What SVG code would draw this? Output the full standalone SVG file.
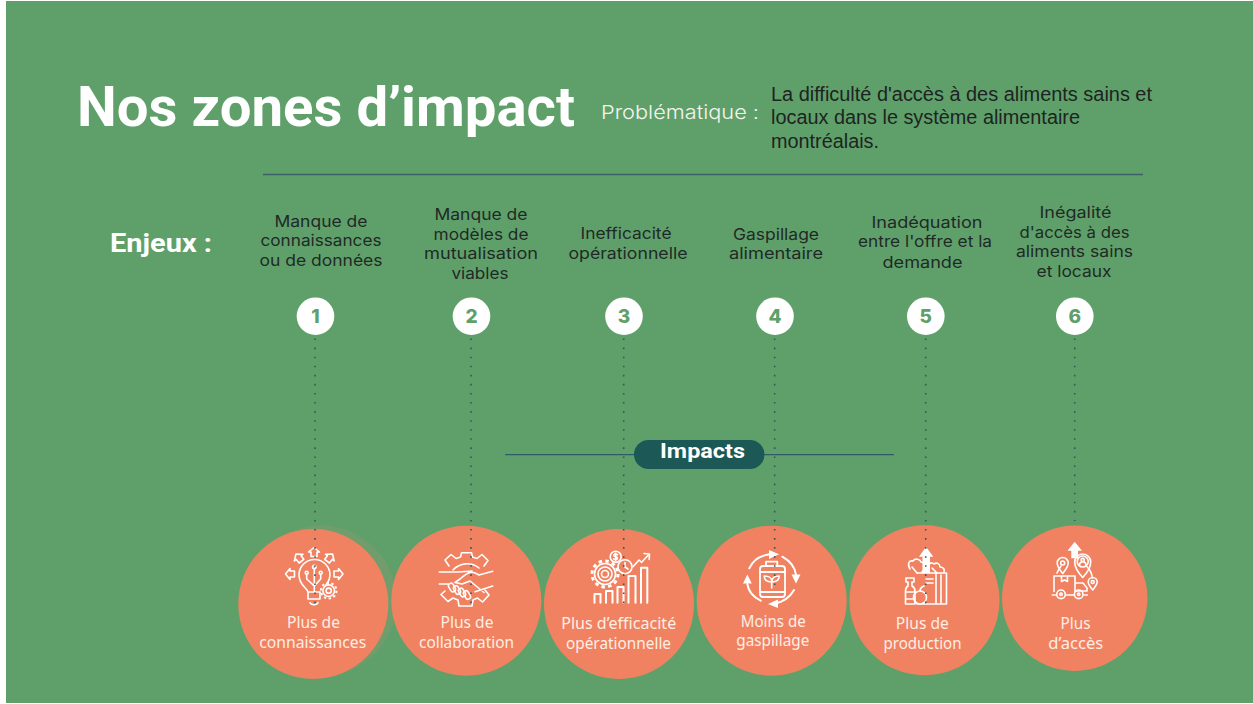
<svg xmlns="http://www.w3.org/2000/svg" xmlns:xlink="http://www.w3.org/1999/xlink" width="1253" height="704" viewBox="0 0 1253 704">
<style>
.s{font-family:"Inter","Noto Sans",sans-serif;font-size:16px;fill:#1f2a26;text-anchor:middle}
.c{font-family:"Noto Sans","Open Sans",sans-serif;font-size:16px;fill:#fdeee4;text-anchor:middle}
.n{font-family:"Inter","Noto Sans",sans-serif;font-size:19px;font-weight:800;fill:#5fa06a;text-anchor:middle}
.d{stroke:#2e5a5c;stroke-width:1.6;stroke-dasharray:1.6 7.47;fill:none}
.i{fill:none;stroke:#fff;stroke-width:1.6;stroke-linejoin:round;stroke-linecap:round}
.o{fill:#f18261}
.w{fill:#fff}
</style>
<defs>
<path id="a" d="M0-5l5.500 4.500h-2.500v4.500h-6v-4.500h-2.500z"/>
<g id="g"><circle r="5.800"/><circle r="2.600"/><circle r="7.800" stroke-width="2" stroke-dasharray="2.400 2.500" stroke-linecap="butt"/></g>
</defs>
<rect width="1253" height="704" fill="#fff"/>
<rect x="6" y="1" width="1247" height="702" fill="#5fa06a"/>
<text x="77" y="126" font-family="Roboto,sans-serif" font-weight="700" font-size="56" fill="#fff" textLength="498" lengthAdjust="spacingAndGlyphs">Nos zones d’impact</text>
<text x="601" y="119" font-family="Inter,sans-serif" font-weight="300" font-size="19" fill="#f4f4ee" textLength="158" lengthAdjust="spacingAndGlyphs">Problématique :</text>
<g font-family="Liberation Sans,sans-serif" font-size="20" fill="#1d2422">
<text x="771" y="101" textLength="381" lengthAdjust="spacingAndGlyphs">La difficulté d'accès à des aliments sains et</text>
<text x="771" y="124" textLength="309" lengthAdjust="spacingAndGlyphs">locaux dans le système alimentaire</text>
<text x="771" y="148" textLength="108" lengthAdjust="spacingAndGlyphs">montréalais.</text>
</g>
<line x1="263" y1="174.500" x2="1143" y2="174.500" stroke="#3c5f6a" stroke-width="1.300"/>
<text x="110" y="252" font-family="Roboto,sans-serif" font-weight="700" font-size="25" fill="#fff" textLength="102" lengthAdjust="spacingAndGlyphs">Enjeux :</text>
<g id="enjeu1"><text class="s" x="321" y="227" textLength="93" lengthAdjust="spacingAndGlyphs">Manque de</text><text class="s" x="321" y="246" textLength="121" lengthAdjust="spacingAndGlyphs">connaissances</text><text class="s" x="321" y="266" textLength="123" lengthAdjust="spacingAndGlyphs">ou de données</text><circle class="w" cx="315.500" cy="316.200" r="18.800"/><text class="n" x="315.500" y="323">1</text></g>
<g id="enjeu2"><text class="s" x="481" y="220" textLength="93" lengthAdjust="spacingAndGlyphs">Manque de</text><text class="s" x="481" y="240" textLength="95" lengthAdjust="spacingAndGlyphs">modèles de</text><text class="s" x="481" y="259" textLength="114" lengthAdjust="spacingAndGlyphs">mutualisation</text><text class="s" x="480" y="279" textLength="57" lengthAdjust="spacingAndGlyphs">viables</text><circle class="w" cx="471.500" cy="316.200" r="18.800"/><text class="n" x="471.500" y="323">2</text></g>
<g id="enjeu3"><text class="s" x="626" y="239" textLength="91" lengthAdjust="spacingAndGlyphs">Inefficacité</text><text class="s" x="628" y="259" textLength="119" lengthAdjust="spacingAndGlyphs">opérationnelle</text><circle class="w" cx="624" cy="316.200" r="18.800"/><text class="n" x="624" y="323">3</text></g>
<g id="enjeu4"><text class="s" x="776" y="240" textLength="86" lengthAdjust="spacingAndGlyphs">Gaspillage</text><text class="s" x="776" y="259" textLength="94" lengthAdjust="spacingAndGlyphs">alimentaire</text><circle class="w" cx="775" cy="316.200" r="18.800"/><text class="n" x="775" y="323">4</text></g>
<g id="enjeu5"><text class="s" x="927" y="228" textLength="111" lengthAdjust="spacingAndGlyphs">Inadéquation</text><text class="s" x="925" y="247" textLength="134" lengthAdjust="spacingAndGlyphs">entre l'offre et la</text><text class="s" x="922.500" y="268" textLength="80" lengthAdjust="spacingAndGlyphs">demande</text><circle class="w" cx="925.800" cy="316.200" r="18.800"/><text class="n" x="925.800" y="323">5</text></g>
<g id="enjeu6"><text class="s" x="1075.500" y="218" textLength="72" lengthAdjust="spacingAndGlyphs">Inégalité</text><text class="s" x="1074.500" y="238" textLength="110" lengthAdjust="spacingAndGlyphs">d'accès à des</text><text class="s" x="1074.500" y="257" textLength="117" lengthAdjust="spacingAndGlyphs">aliments sains</text><text class="s" x="1074" y="277" textLength="75" lengthAdjust="spacingAndGlyphs">et locaux</text><circle class="w" cx="1074.800" cy="316.200" r="18.800"/><text class="n" x="1074.800" y="323">6</text></g>
<g id="impact1"><circle cx="321" cy="601" r="75.500" fill="#7d9a6c" opacity=".55"/><circle class="o" cx="313.300" cy="604" r="75"/>
<g class="i"><path d="M308 592c-1-4-9-7-9-17a15.500 15.500 0 0 1 31 0c0 5-2 7-4 10M308 592v7h12v-7zM308 599h12M310 602.500c1 3 7 3 8 0"/>
<path d="M314.300 568.500v23M306.700 574v5l7.600 7M320.700 574v5l-6.400 7"/><circle cx="314.300" cy="567" r="1.700"/><circle cx="306.700" cy="572.700" r="1.500"/><circle cx="320.700" cy="572.700" r="1.500"/>
<use xlink:href="#a" href="#a" transform="translate(314 552.500)"/><use xlink:href="#a" href="#a" transform="translate(299 558) rotate(-38)"/><use xlink:href="#a" href="#a" transform="translate(329.500 558) rotate(38)"/><use xlink:href="#a" href="#a" transform="translate(290.500 574) rotate(-90)"/><use xlink:href="#a" href="#a" transform="translate(338 574) rotate(90)"/>
<use xlink:href="#g" href="#g" transform="translate(328.700 590.700)"/></g>
<text class="c" x="313.500" y="628" textLength="53" lengthAdjust="spacingAndGlyphs">Plus de</text><text class="c" x="312.700" y="648" textLength="107" lengthAdjust="spacingAndGlyphs">connaissances</text></g>
<g id="impact2"><circle class="o" cx="466.300" cy="600.700" r="75"/>
<g class="i"><path d="M449 566l-4-6 6-5.500 5 4 4.500-1.500 1-4.300h10l1 4.300 4.500 1.500 5-4 6 6-4 5.500M453 570a19 19 0 0 1 26-2"/>
<path d="M445 591l-4 3.500 7 7 5-3.500 5 2 1 6h13l1-6 4.500-2 5 4 6.500-7-4-5"/>
<path d="M439.300 572H458c6-1 10 0 14-1M492.700 571.300L479 575c-7-5-11-3-19 4l-5 3.500 7 1.500 8-3 14 11.500M439.300 584h9M492.700 586L475 591.700"/>
<g stroke-width="1.500"><rect x="-4.500" y="-2.600" width="9" height="5.200" rx="2.600" transform="translate(452 587.500) rotate(60)"/><rect x="-4.500" y="-2.600" width="9" height="5.200" rx="2.600" transform="translate(457 590) rotate(60)"/><rect x="-4.500" y="-2.600" width="9" height="5.200" rx="2.600" transform="translate(462 592.500) rotate(60)"/><rect x="-4.500" y="-2.600" width="9" height="5.200" rx="2.600" transform="translate(467 595) rotate(60)"/></g></g>
<text class="c" x="467" y="627.500" textLength="53" lengthAdjust="spacingAndGlyphs">Plus de</text><text class="c" x="466.500" y="647.500" textLength="95" lengthAdjust="spacingAndGlyphs">collaboration</text></g>
<g id="impact3"><circle class="o" cx="619" cy="604" r="75"/>
<g class="i"><circle cx="605" cy="574" r="10.500"/><circle cx="605" cy="574" r="7"/><circle cx="605" cy="574" r="3.500"/><circle cx="605" cy="574" r="13" stroke-width="3" stroke-dasharray="3.500 3.300" stroke-linecap="butt"/>
<circle cx="625" cy="566.700" r="7"/><path d="M625 562.500v4.500l3 2"/><circle cx="615.700" cy="556.700" r="5.500"/><path d="M617.500 554.700c-2-1.500-4-.5-3.600 1 .4 1.500 3.600.8 3.600 2.500 0 1.500-2.500 1.700-3.900.6M615.700 553v7.500"/>
<path d="M633 566.700l6-6.700 2.700 2.300 7.600-8.300M644 553.500l5.500.5-.3 5.500"/>
<g stroke-width="2"><path d="M594.500 602.700V594h6v8.700M606 602.700V591h6.500v11.700M617.500 602.700V587h6v15.700M628.500 602.700V576h7v26.700M641 602.700V567.700h6.300v35"/></g></g>
<text class="c" x="618.700" y="629" textLength="115" lengthAdjust="spacingAndGlyphs">Plus d’efficacité</text><text class="c" x="618.500" y="648.500" textLength="105" lengthAdjust="spacingAndGlyphs">opérationnelle</text></g>
<g id="impact4"><circle class="o" cx="771.700" cy="600.700" r="75"/>
<g class="i"><path stroke-width="2" d="M749.300 568.300C753 560 760 555.500 770 554.300M782.300 556.700C790 561 795 567 796 575M794 590C790 597 783 602 775 603.300M760.700 600.700C753 597 748.500 591 747.300 584"/>
<rect x="760" y="566" width="25" height="31" rx="3" stroke-width="1.800"/><path stroke-width="1.800" d="M766 566v-4.300h11.300v4.300M760 572h25M760 592h25"/><path d="M771.700 588v-7c0-3-3-5-7.500-5 0 4 3 6 7.500 6 0-4 3-6 7.500-6 0 4-3 6-7.500 6"/></g>
<path class="w" d="M769 550l10 4.300-10 4.700zM791.500 574.500h9l-4.500 9zM778 599.500l-10 4.500 10 4zM743 583.500l4.300-9 4.500 9z"/>
<text class="c" x="773.300" y="626.500" textLength="65" lengthAdjust="spacingAndGlyphs">Moins de</text><text class="c" x="772.800" y="646" textLength="73" lengthAdjust="spacingAndGlyphs">gaspillage</text></g>
<g id="impact5"><circle class="o" cx="924.500" cy="600.300" r="75"/>
<g class="i"><path d="M917 573h29.500v31H917M936 573v31M941 575v28" /><path d="M926 579h7M926 583h7"/><path d="M908 586v-4h-2v-4h8v4h-2v4c2 1 3 3 3 5v13h-9.500v-13c0-2 1-4 2.500-5M905.500 592h9.500M905.500 599h8"/><circle cx="920" cy="597.500" r="6.500"/><path d="M920 591c0-2 1-4 4-5"/>
<path d="M910 569c-3-5-1-9 3-8 2-3 7-2 8 1 3 0 5 3 4 6l-3 4M912 567l5 6M928 566c1-3 4-4 6-2 3-2 6 0 6 3 3 0 5 2 4 5M932 568l5 5"/></g>
<path class="w" d="M926 546.700l-7 10h3.500V573h7.500v-16.300h3.300z"/>
<text class="c" x="922.300" y="629" textLength="53" lengthAdjust="spacingAndGlyphs">Plus de</text><text class="c" x="922.500" y="649" textLength="78" lengthAdjust="spacingAndGlyphs">production</text></g>
<g id="impact6"><circle class="o" cx="1074.700" cy="598.300" r="72.700"/>
<g class="i"><path d="M1054 591.500V576h21v15.500M1061.500 576v5.500l3-1.500 3 1.500V576M1075 583h8l4 5v3h-12M1052.300 595h4M1066 595h8M1084 595h3.300M1057 573c1-3 3-5 4-7M1087 566.700c3 3 5 7 5.300 11.300"/>
<circle cx="1061" cy="594.300" r="4.300"/><circle cx="1061" cy="594.300" r="1.200"/><circle cx="1078.700" cy="594.300" r="4.300"/><circle cx="1078.700" cy="594.300" r="1.200"/>
<path d="M1062.700 573.500c-5-6-5.500-8-5.500-10.500a5.500 5.500 0 0 1 11 0c0 2.500-.5 4.500-5.500 10.500z"/><circle cx="1062.700" cy="563" r="2"/>
<path d="M1082.700 577.500c-7.500-8-8-12-8-15.500a8 8 0 0 1 16 0c0 3.500-.5 7.500-8 15.500z"/><circle cx="1082.700" cy="561.500" r="5.500"/><path d="M1079.500 565.500c0-5 6.500-5 6.500 0"/><circle cx="1082.700" cy="560" r="1.600"/>
<path d="M1092.700 590c-4-5-4.500-6.500-4.500-8a4.500 4.500 0 0 1 9 0c0 1.500-.5 3-4.500 8z"/><circle cx="1092.700" cy="582" r="1.500"/></g>
<path class="w" d="M1074.700 541.700l-7.200 9h3.800v7.600h6.800v-7.600h3.900z"/>
<text class="c" x="1075.500" y="629" textLength="30" lengthAdjust="spacingAndGlyphs">Plus</text><text class="c" x="1075.800" y="649" textLength="55" lengthAdjust="spacingAndGlyphs">d’accès</text></g>
<g id="connectors">
<path class="d" d="M315 338.500V609M471 338.500V609M623.700 338.500V609M774.700 338.500V592.500M925.700 338.500V609M1074.700 338.500V521"/>
<line x1="505" y1="454.700" x2="894" y2="454.700" stroke="#2e5a6a" stroke-width="1.300"/>
</g>
<g id="impacts"><rect x="634" y="440" width="130.500" height="29" rx="14.500" fill="#1b5856"/><text x="660" y="458" font-family="Roboto,sans-serif" font-weight="700" font-size="20.500" fill="#fff" textLength="85" lengthAdjust="spacingAndGlyphs">Impacts</text></g>
</svg>
